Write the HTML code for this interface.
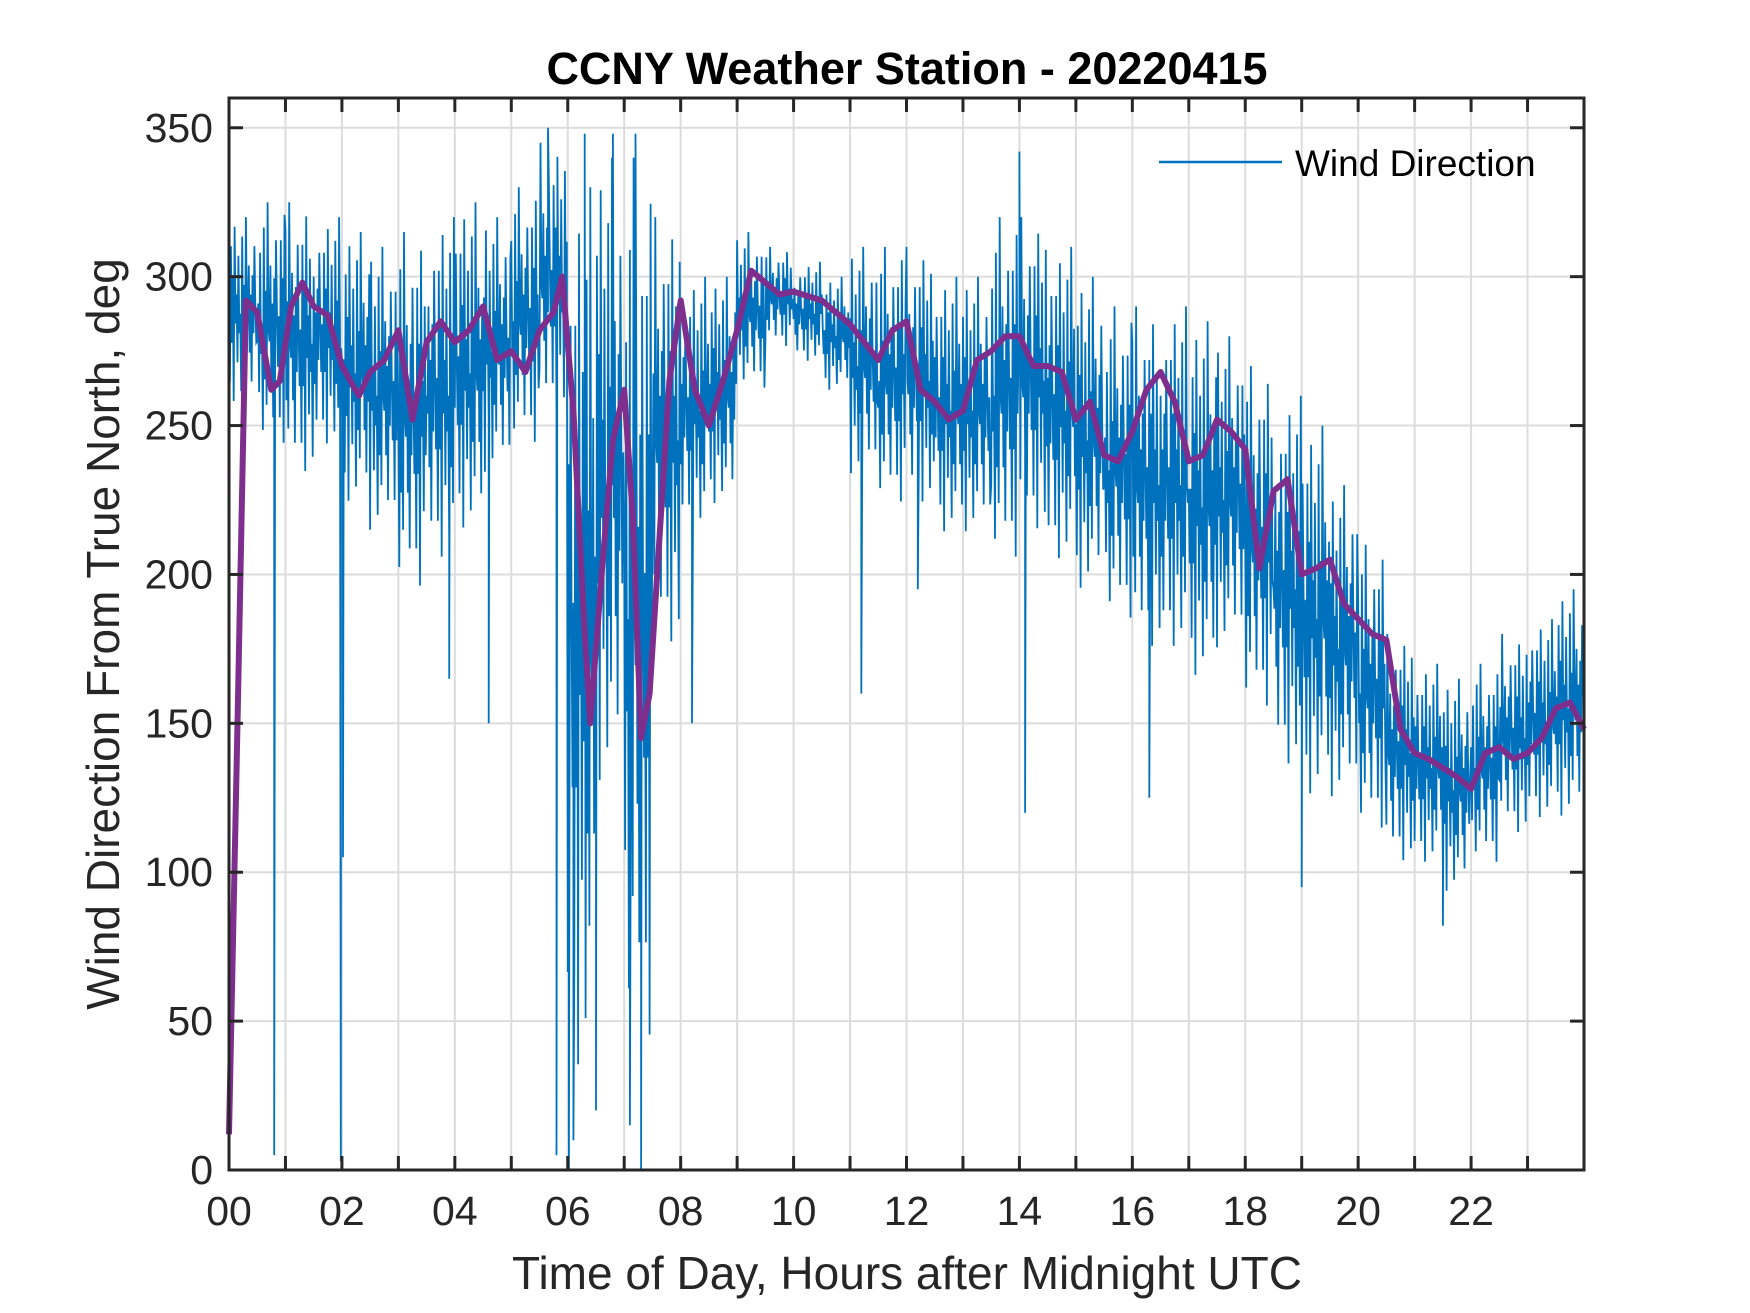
<!DOCTYPE html>
<html><head><meta charset="utf-8"><style>
html,body{margin:0;padding:0;background:#fff;}
svg{display:block;font-family:"Liberation Sans",Arial,sans-serif;}
</style></head><body>
<svg id="chart" width="1750" height="1313" viewBox="0 0 1750 1313" xmlns="http://www.w3.org/2000/svg">
<rect width="1750" height="1313" fill="#fff"/>
<g id="grid"></g>
<g id="plot"></g>
<g id="axes"></g>
<text x="907" y="84" text-anchor="middle" font-size="45" font-weight="bold" fill="#000">CCNY Weather Station - 20220415</text>
<text x="907" y="1289" text-anchor="middle" font-size="46" fill="#262626">Time of Day, Hours after Midnight UTC</text>
<text transform="translate(119,634) rotate(-90)" text-anchor="middle" font-size="46" fill="#262626">Wind Direction From True North, deg</text>
<g>
<line x1="1159" y1="162" x2="1282" y2="162" stroke="#0072BD" stroke-width="2.5"/>
<text x="1295" y="176" font-size="37" fill="#000">Wind Direction</text>
</g>
</svg>
<script>
// --- data ---
const binStart = [0,0.5,1,1.5,2,2.5,3,3.5,4,4.5,5,5.5,6,6.5,7,7.5,8,8.5,9,9.5,10,10.5,11,11.5,12,12.5,13,13.5,14,14.5,15,15.5,16,16.5,17,17.5,18,18.5,19,19.5,20,20.5,21,21.5,22,22.5,23,23.5];
const binHi = [320,325,325,320,315,310,315,320,325,320,330,345,330,340,340,320,300,300,315,310,305,300,310,310,310,300,300,320,320,310,300,290,290,290,285,280,270,260,250,230,210,180,170,165,170,180,185,195];
const binLo = [255,240,230,240,220,210,190,200,210,230,240,250,20,120,30,170,210,220,260,275,270,260,230,220,220,210,210,200,210,200,190,180,170,170,160,170,150,130,120,120,110,100,100,90,100,110,115,115];
const spikeTimes = [0.8,1.98,2.02,5.8,6.02,7.3,3.9,4.6,8.2,11.2,12.2,14.1,16.3,19.0,21.5,5.65,6.3,6.8,7.2,14.0,6.1,6.5,7.1];
const spikeVals = [5,3,105,5,0,0,165,150,150,160,195,120,125,95,82,350,348,348,348,342,10,20,15];
const meanT = [0,0.15,0.3,0.5,0.75,0.9,1.1,1.3,1.5,1.75,2,2.3,2.5,2.75,3,3.25,3.5,3.75,4,4.25,4.5,4.75,5,5.25,5.5,5.75,5.9,6.1,6.3,6.4,6.6,6.8,7,7.15,7.3,7.45,7.6,7.8,8,8.25,8.5,8.75,9,9.25,9.5,9.75,10,10.5,11,11.5,11.75,12,12.25,12.5,12.75,13,13.25,13.5,13.75,14,14.25,14.5,14.75,15,15.25,15.5,15.75,16,16.25,16.5,16.75,17,17.25,17.5,17.75,18,18.25,18.5,18.75,19,19.25,19.5,19.75,20,20.25,20.5,20.75,21,21.25,21.5,21.75,22,22.25,22.5,22.75,23,23.25,23.5,23.75,24];
const meanV = [12,150,292,288,262,265,290,298,290,287,270,260,268,272,282,252,278,285,278,282,290,272,275,268,282,288,300,255,180,150,200,245,262,220,145,160,205,265,292,262,250,265,282,302,298,294,295,292,284,272,282,285,262,258,252,255,272,275,280,280,270,270,268,252,258,240,238,248,262,268,258,238,240,252,248,242,202,228,232,200,202,205,190,185,180,178,148,140,138,135,132,128,140,142,138,140,145,155,157,148,152,154];
const yTicks = [0,50,100,150,200,250,300,350];
const xTickLabels = ["00","02","04","06","08","10","12","14","16","18","20","22"];
const pattern = [0.55,0.15,0.85,0.35,0.7,0.05,0.95,0.45,0.6,0.25,0.8,0.4,0.5,0.1,0.9,0.3,0.65,0.2,1.0,0.5,0.45,0.75,0.3,0.6,0.15,0.7,0.4,0.85,0.55,0.35];

const L=229,R=1584,T=98,B=1170;
const xs = t => L + (t/24)*(R-L);
const ys = v => B - (v/360)*(B-T);
const NS="http://www.w3.org/2000/svg";
function mk(tag, parent, attrs){const e=document.createElementNS(NS,tag);for(const k in attrs)e.setAttribute(k,attrs[k]);parent.appendChild(e);return e;}
const grid=document.getElementById('grid'), plot=document.getElementById('plot'), axes=document.getElementById('axes');

for(let h=1;h<24;h++){const g=mk('line',grid,{x1:xs(h),x2:xs(h),y1:T,y2:B,stroke:'#dcdcdc','stroke-width':2});

}
yTicks.forEach(v=>{if(v===0)return;const g=mk('line',grid,{x1:L,x2:R,y1:ys(v),y2:ys(v),stroke:'#dcdcdc','stroke-width':2});

});

// blue raw series
const pts=[];
const per=30;
for(let b=0;b<binStart.length;b++){
  for(let k=0;k<per;k++){
    const t=binStart[b]+0.5*k/per;
    const p=pattern[(k+b*7)%pattern.length];
    pts.push([t, binLo[b]+p*(binHi[b]-binLo[b])]);
  }
}
spikeTimes.forEach((t,i)=>pts.push([t,spikeVals[i]]));
pts.sort((a,b)=>a[0]-b[0]);
const raw=mk('polyline',plot,{points:pts.map(p=>xs(p[0]).toFixed(1)+','+ys(p[1]).toFixed(1)).join(' '),fill:'none',stroke:'#0072BD','stroke-width':1.8});


const mean=mk('polyline',plot,{points:meanT.map((t,i)=>xs(t).toFixed(1)+','+ys(meanV[i]).toFixed(1)).join(' '),fill:'none',stroke:'#7E2F8E','stroke-width':6,'stroke-linejoin':'round'});



// axes box
const box=mk('rect',axes,{x:L,y:T,width:R-L,height:B-T,fill:'none',stroke:'#262626','stroke-width':3});


for(let h=1;h<24;h++){
  const a=mk('line',axes,{x1:xs(h),x2:xs(h),y1:B,y2:B-14,stroke:'#262626','stroke-width':3});
  
  
  const c=mk('line',axes,{x1:xs(h),x2:xs(h),y1:T,y2:T+14,stroke:'#262626','stroke-width':3});
  
  
}
xTickLabels.forEach((s,i)=>{const tx=mk('text',axes,{x:xs(i*2),y:B+55,'text-anchor':'middle','font-size':41,fill:'#262626'});tx.textContent=s;

});
yTicks.forEach(v=>{
  const a=mk('line',axes,{x1:L,x2:L+14,y1:ys(v),y2:ys(v),stroke:'#262626','stroke-width':3});
  
  
  const c=mk('line',axes,{x1:R,x2:R-14,y1:ys(v),y2:ys(v),stroke:'#262626','stroke-width':3});
  
  
  const tx=mk('text',axes,{x:L-16,y:ys(v)+14,'text-anchor':'end','font-size':41,fill:'#262626'});tx.textContent=v;
  
  
});
</script>
</body></html>
